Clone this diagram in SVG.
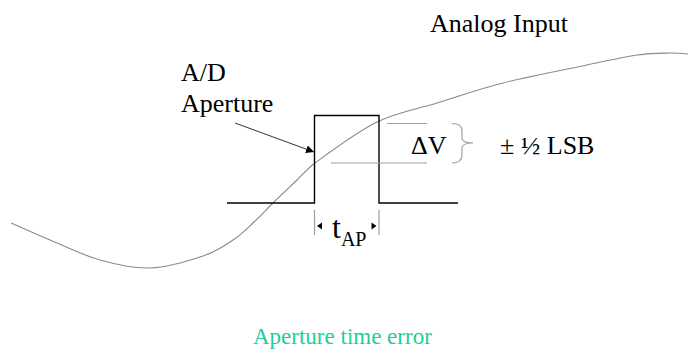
<svg xmlns="http://www.w3.org/2000/svg" width="689" height="349" viewBox="0 0 689 349">
<style>
text{font-family:"Liberation Serif","DejaVu Serif","Times New Roman",serif;fill:#000}
.lbl{font-size:26px}
.cap{font-size:23px;fill:#1ccf98}
.curve{fill:none;stroke:#8a8a8a;stroke-width:1.1}
.pulse{fill:none;stroke:#000;stroke-width:1.4}
.guide{fill:none;stroke:#a0a0a0;stroke-width:1.2}
.lead{fill:none;stroke:#333;stroke-width:1}
</style>
<defs>
<marker id="ah" viewBox="0 0 10 10" refX="10" refY="5" markerWidth="8" markerHeight="8" markerUnits="userSpaceOnUse" orient="auto">
<path d="M0,0 L10,5 L0,10 z" fill="#000"/>
</marker>
</defs>
<rect width="689" height="349" fill="#fff"/>
<g id="analog-input">
<path class="curve" d="M11,223 C17.5,225.8 35.2,233.8 50,240 C64.8,246.2 83.3,255.3 100,260 C116.7,264.7 132.8,268.7 150,268 C167.2,267.3 189.2,260.7 203,256 C216.8,251.3 224.7,245.5 233,240 C241.3,234.5 246.3,229.2 253,223 C259.7,216.8 265.7,210.2 273,203 C280.3,195.8 290,186.7 297,180 C303,174 308.6,167.6 315,163 C328.3,153.3 356.7,132 377,122 C397.3,112 416,109.5 437,103 C458,96.5 478,89.3 503,83 C528,76.7 564.7,69.7 587,65 C609.3,60.3 623.2,57 637,55 C650.8,53 661.5,53.2 670,53 C678.5,52.8 685,53.8 688,54"/>
<text class="lbl" x="430" y="32" font-family="Liberation Serif, serif">Analog Input</text>
</g>
<g id="aperture-pulse">
<path class="pulse" d="M227,203 H314.5 V115.5 H379 V203 H458"/>
</g>
<g id="aperture-label">
<text class="lbl" x="181" y="81" font-family="Liberation Serif, serif">A/D</text>
<text class="lbl" x="181" y="112" font-family="Liberation Serif, serif">Aperture</text>
</g>
<g id="delta-v">
<path class="guide" d="M387,123.5 H427 M331,163 H427"/>
<path class="guide" d="M452,123.5 Q462,123.5 462,131 V138 Q462,143 473,143 Q462,143 462,148 V155 Q462,163 452,163"/>
<text class="lbl" x="411" y="154" font-family="Liberation Serif, serif">ΔV</text>
</g>
<g id="lsb">
<text class="lbl" x="500" y="154" font-family="Liberation Serif, serif">± ½ LSB</text>
</g>
<g id="t-ap">
<path class="guide" d="M314.5,210 V235 M379,210 V235"/>
<path d="M317,226 L322,222.5 L322,229.5 z M376.5,226 L371.5,222.5 L371.5,229.5 z" fill="#000"/>
<text x="332" y="238" font-family="Liberation Serif, serif" font-size="32">t<tspan dy="8" font-size="20">AP</tspan></text>
</g>
<g id="connectors">
<path class="lead" d="M235,123 L314,152" marker-end="url(#ah)"/>
</g>
<g id="caption">
<text class="cap" x="253" y="344" font-family="Liberation Serif, serif">Aperture time error</text>
</g>
</svg>
